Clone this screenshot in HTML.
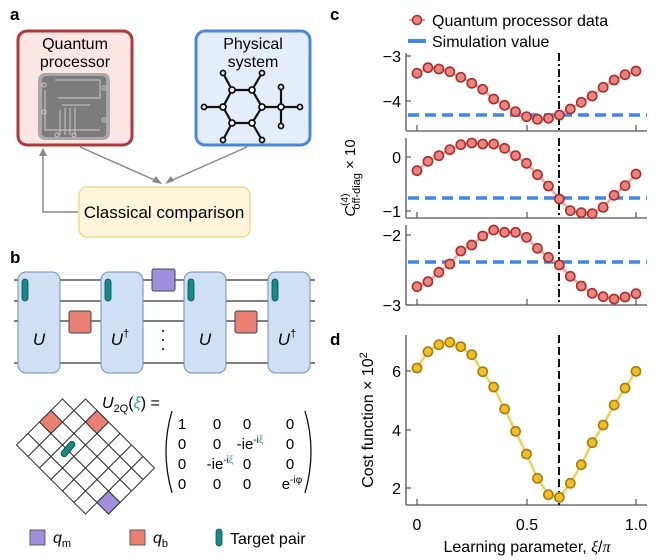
<!DOCTYPE html>
<html><head><meta charset="utf-8"><style>
html,body{margin:0;padding:0;background:#fff}
svg{display:block;font-family:"Liberation Sans",sans-serif}
</style></head><body>
<svg id="s" width="660" height="560" viewBox="0 0 660 560" xmlns="http://www.w3.org/2000/svg">
<!-- panel a -->
<text x="10" y="20" font-size="17" font-weight="bold">a</text>
<rect x="18" y="31" width="114" height="114" rx="9" fill="#fbe6e4" stroke="#b0383a" stroke-width="3"/>
<text x="75" y="49" font-size="16" text-anchor="middle">Quantum</text>
<text x="75" y="67" font-size="16" text-anchor="middle">processor</text>
<rect x="38" y="73" width="72" height="67" rx="7" fill="#a8a8a8"/>
<rect x="42" y="76" width="64" height="61" rx="4" fill="#7c7c7c"/>
<g stroke="#c8c8c8" stroke-width="1" fill="none">
<path d="M55 80 H100 V98 H58 M60 110 V135 M65 108 V135 M70 108 V135 M75 108 V135 M45 90 V130 H100 M62 105 H90"/>
<circle cx="44" cy="85" r="2"/><circle cx="44" cy="112" r="2"/><circle cx="104" cy="88" r="2"/><circle cx="104" cy="120" r="2"/><circle cx="57" cy="135" r="2"/><circle cx="74" cy="135" r="2"/>
</g>
<rect x="196" y="31" width="114" height="114" rx="9" fill="#e4edfa" stroke="#4a87dc" stroke-width="3"/>
<text x="253" y="49" font-size="16" text-anchor="middle">Physical</text>
<text x="253" y="67" font-size="16" text-anchor="middle">system</text>
<g stroke="#111" stroke-width="2.2" fill="#fff">
<path d="M232 90 L252 90 L262 107 L252 123 L232 123 L223 107 Z M223 73 L232 90 M262 73 L252 90 M204 107 L223 107 M223 140 L232 123 M262 140 L252 123 M262 107 L300 107 M281 87 L281 126" fill="none"/>
<g stroke-width="1.8">
<circle cx="232" cy="90" r="3"/><circle cx="252" cy="90" r="3"/><circle cx="262" cy="107" r="3"/><circle cx="252" cy="123" r="3"/><circle cx="232" cy="123" r="3"/><circle cx="223" cy="107" r="3"/>
<circle cx="223" cy="73" r="2.5"/><circle cx="262" cy="73" r="2.5"/><circle cx="204" cy="107" r="2.5"/><circle cx="223" cy="140" r="2.5"/><circle cx="262" cy="140" r="2.5"/><circle cx="281" cy="107" r="3"/><circle cx="281" cy="87" r="2.5"/><circle cx="281" cy="126" r="2.5"/><circle cx="300" cy="107" r="2.5"/>
</g></g>
<rect x="79" y="187" width="171" height="50" rx="8" fill="#fdf6da" stroke="#f1da8c" stroke-width="1.5"/>
<text x="164" y="218" font-size="17" text-anchor="middle">Classical comparison</text>
<g stroke="#888" stroke-width="1.5" fill="none">
<path d="M80 147 L159 182"/><path d="M247 147 L168 182"/><path d="M78 212 H43 V152"/>
</g>
<g fill="#888"><path d="M162 184 L152 182 L156 176 Z"/><path d="M165 184 L171 176 L174 181 Z"/><path d="M43 148 L39 156 L47 156 Z"/></g>

<!-- panel b -->
<text x="10" y="263" font-size="17" font-weight="bold">b</text>
<g stroke="#333" stroke-width="1.2"><line x1="14" y1="280" x2="315" y2="280"/><line x1="14" y1="301" x2="315" y2="301"/><line x1="14" y1="321" x2="315" y2="321"/><line x1="14" y1="363" x2="315" y2="363"/></g>
<g fill="#cfe0f5" stroke="#6d8fb8" stroke-width="1">
<rect x="18" y="272" width="42" height="101" rx="8"/><rect x="101" y="272" width="42" height="101" rx="8"/><rect x="184" y="272" width="42" height="101" rx="8"/><rect x="268" y="272" width="42" height="101" rx="8"/>
</g>
<g fill="#158a86" stroke="#0b4f4c" stroke-width="0.8">
<rect x="22" y="279" width="6" height="22" rx="3"/><rect x="105" y="279" width="6" height="22" rx="3"/><rect x="188" y="279" width="6" height="22" rx="3"/><rect x="272" y="279" width="6" height="22" rx="3"/>
</g>
<rect x="152" y="269" width="23" height="22" rx="2" fill="#a08fdc" stroke="#444" stroke-width="1"/>
<rect x="69" y="311" width="22" height="22" rx="2" fill="#ea7f72" stroke="#444" stroke-width="1"/>
<rect x="235" y="311" width="22" height="22" rx="2" fill="#ea7f72" stroke="#444" stroke-width="1"/>
<g font-size="17" font-style="italic" text-anchor="middle">
<text x="39" y="345">U</text><text x="120" y="345">U<tspan font-size="11" font-style="normal" dy="-8">†</tspan></text><text x="205" y="345">U</text><text x="287" y="345">U<tspan font-size="11" font-style="normal" dy="-8">†</tspan></text>
</g>
<g fill="#333"><circle cx="163" cy="331" r="1.1"/><circle cx="163" cy="340" r="1.1"/><circle cx="163" cy="349" r="1.1"/></g>
<g id="grid" stroke="#333" stroke-width="1" fill="#fff"></g>
<text x="102" y="408" font-size="16"><tspan font-style="italic">U</tspan><tspan font-size="11" dy="4">2Q</tspan><tspan dy="-4">(</tspan><tspan fill="#2aa6a0" font-style="italic">ξ</tspan>) =</text>
<path d="M172 411 Q160 451 172 493" fill="none" stroke="#111" stroke-width="1.3"/>
<path d="M305 411 Q317 451 305 493" fill="none" stroke="#111" stroke-width="1.3"/>
<g font-size="15" text-anchor="middle">
<text x="182" y="429">1</text><text x="217" y="429">0</text><text x="247" y="429">0</text><text x="290" y="429">0</text>
<text x="182" y="449">0</text><text x="217" y="449">0</text><text x="250" y="449">-ie<tspan font-size="10" dy="-6">-i</tspan><tspan font-size="10" fill="#2aa6a0">ξ</tspan></text><text x="290" y="449">0</text>
<text x="182" y="469">0</text><text x="220" y="469">-ie<tspan font-size="10" dy="-6">-i</tspan><tspan font-size="10" fill="#2aa6a0">ξ</tspan></text><text x="247" y="469">0</text><text x="290" y="469">0</text>
<text x="182" y="489">0</text><text x="217" y="489">0</text><text x="247" y="489">0</text><text x="292" y="489">e<tspan font-size="10" dy="-6">-iφ</tspan></text>
</g>
<rect x="30" y="530" width="15" height="15" fill="#a08fdc" stroke="#444" stroke-width="0.8"/>
<text x="53" y="543" font-size="16" font-style="italic">q<tspan font-size="11" font-style="normal" dy="4">m</tspan></text>
<rect x="130" y="530" width="15" height="15" fill="#ea7f72" stroke="#444" stroke-width="0.8"/>
<text x="153" y="543" font-size="16" font-style="italic">q<tspan font-size="11" font-style="normal" dy="4">b</tspan></text>
<rect x="216" y="529" width="6" height="17" rx="3" fill="#158a86" stroke="#0b4f4c" stroke-width="0.8"/>
<text x="230" y="544" font-size="16">Target pair</text>

<!-- panel c -->
<text x="330" y="20" font-size="17" font-weight="bold">c</text>
<line x1="409" y1="20" x2="425" y2="20" stroke="#e89a96" stroke-width="2"/>
<circle cx="417" cy="20" r="4.5" fill="#e8867f" stroke="#b02c2a" stroke-width="1.5"/>
<text x="432" y="26" font-size="16">Quantum processor data</text>
<line x1="408" y1="41" x2="426" y2="41" stroke="#3f86e6" stroke-width="4"/>
<text x="432" y="47" font-size="16">Simulation value</text>
<g id="plots"></g>
<g font-size="16" text-anchor="end">
<text x="401" y="62">−3</text><text x="401" y="107">−4</text>
<text x="401" y="163">0</text><text x="401" y="217">−1</text>
<text x="401" y="241">−2</text><text x="401" y="311">−3</text>
<text x="401" y="377">6</text><text x="401" y="436">4</text><text x="401" y="494">2</text>
</g>
<g font-size="16" text-anchor="middle">
<text x="417" y="530">0</text><text x="527" y="530">0.5</text><text x="636" y="530">1.0</text>
<text x="527" y="552">Learning parameter, <tspan font-family="Liberation Serif" font-style="italic">ξ</tspan>/<tspan font-family="Liberation Serif" font-style="italic">π</tspan></text>
</g>
<text transform="translate(355,178) rotate(-90)" font-size="15" text-anchor="middle"><tspan font-style="italic">C</tspan><tspan font-size="10" dy="-7">(4)</tspan><tspan font-size="11" dx="-16" dy="12">off-diag</tspan><tspan dy="-5"> × 10</tspan></text>
<text x="330" y="345" font-size="17" font-weight="bold">d</text>
<text transform="translate(373,420) rotate(-90)" font-size="16" text-anchor="middle">Cost function × 10<tspan font-size="11" dy="-6">2</tspan></text>
</svg>
<script>
var NS="http://www.w3.org/2000/svg";
function el(p,t,a){var e=document.createElementNS(NS,t);for(var k in a)e.setAttribute(k,a[k]);p.appendChild(e);return e;}
var g=document.getElementById('grid');
var ox=16.5,oy=445,h=11.5;
function cell(i,j,fill){var cx=ox+(i+j+1)*h, cy=oy+(i-j)*h;
 el(g,'path',{d:"M"+(cx-h)+" "+cy+" L"+cx+" "+(cy-h)+" L"+(cx+h)+" "+cy+" L"+cx+" "+(cy+h)+" Z",fill:fill});}
for(var i=0;i<7;i++)for(var j=0;j<5;j++){
 if(i==6&&j==0)continue;
 if(i==0&&j==4)continue;
 cell(i,j,"#fff");
}
cell(0,2,"#ea7f72");cell(2,4,"#ea7f72");cell(6,1,"#a08fdc");
el(g,'rect',{x:65,y:440,width:6,height:18,rx:3,fill:"#158a86",stroke:"#0b4f4c",transform:"rotate(40 68 449)"});
var P=document.getElementById('plots');
function X(i){return 417+i*10.95;}
var panels=[
 {top:53,bot:131,sim:115,c:'r',d:[220,203,207,215,232,250,268,297,316,335,350,358,355,345,327,307,288,262,240,224,213]},
 {top:138,bot:218,sim:198,c:'r',d:[512,484,467,449,434,429,432,432,445,467,490,524,558,597,632,638,641,622,586,557,522]},
 {top:225,bot:305,sim:262,c:'r',d:[860,845,817,792,753,735,708,690,697,697,712,745,772,795,829,858,880,890,897,891,881]},
 {top:335,bot:505,sim:null,c:'y',d:[204,155,134,127,140,164,215,261,327,394,462,535,584,592,550,494,428,375,315,264,214],off:300}
];
var ticksY=[[56,101],[157,211],[235,305],[371,430,488]];
panels.forEach(function(p,k){
 el(P,'line',{x1:406,y1:p.top,x2:406,y2:p.bot,stroke:'#555','stroke-width':1.3});
 el(P,'line',{x1:406,y1:p.bot,x2:647,y2:p.bot,stroke:'#555','stroke-width':1.3});
 [417,527,636].forEach(function(x){el(P,'line',{x1:x,y1:p.bot,x2:x,y2:p.bot-6,stroke:'#555','stroke-width':1.2});});
 ticksY[k].forEach(function(y){el(P,'line',{x1:406,y1:y,x2:411,y2:y,stroke:'#555','stroke-width':1.2});});
 if(p.sim)el(P,'line',{x1:408,y1:p.sim,x2:647,y2:p.sim,stroke:'#3f86e6','stroke-width':3.5,'stroke-dasharray':'11 6'});
 el(P,'line',{x1:559,y1:p.top,x2:559,y2:p.bot,stroke:'#111','stroke-width':2,'stroke-dasharray':k==3?'8 4':'8 3 2 3'});
 var off=p.off||0,pts=p.d.map(function(v,i){return X(i)+","+(off+v/3);});
 el(P,'polyline',{points:pts.join(' '),fill:'none',stroke:p.c=='r'?'#eea7a3':'#f2cf5a','stroke-width':2.5});
 p.d.forEach(function(v,i){el(P,'circle',{cx:X(i),cy:off+v/3,r:4.6,fill:p.c=='r'?'#e8857e':'#f0c020',stroke:p.c=='r'?'#b02c2a':'#a87b10','stroke-width':1.6});});
});
</script>
</body></html>
